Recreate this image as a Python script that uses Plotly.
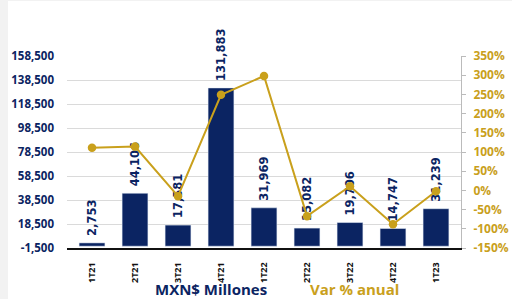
import plotly.graph_objects as go

categories = ["1T21", "2T21", "3T21", "4T21", "1T22", "2T22", "3T22", "4T22", "1T23"]
mxn_millones = [2753, 44106, 17581, 131883, 31969, 15082, 19706, 14747, 31239]
var_pct = [111, 114, -15, 249, 298, -67, 11, -88, -2]
bar_labels = ["\u00a0" + f"{v:,}" for v in mxn_millones]

left_ticks = list(range(-1500, 158501, 20000))
right_ticks = list(range(-150, 351, 50))

NAVY = "#0B2462"
GOLD = "#C9A01C"

# figure is placed at (8, 1) in the 512x299 window (page background light gray)
OX, OY = 8, 1
W, H = 512 - OX, 299 - OY
L, R, T, B = 67 - OX, 51, 56 - OY, 51

fig = go.Figure()
fig.add_trace(go.Bar(
    x=categories, y=mxn_millones, name="MXN$ Millones",
    marker=dict(color=NAVY), width=0.6,
    text=bar_labels, textposition="outside", textangle=-90,
    constraintext="none",
    textfont=dict(color=NAVY, size=11.5, family="DejaVu Sans", weight="bold"),
    cliponaxis=False, yaxis="y",
))
fig.add_trace(go.Scatter(
    x=categories, y=var_pct, name="Var % anual", mode="lines+markers",
    line=dict(color=GOLD, width=2), marker=dict(color=GOLD, size=8.5),
    yaxis="y2", cliponaxis=False,
))

fig.update_layout(
    width=W, height=H,
    margin=dict(l=L, r=R, t=T, b=B, autoexpand=False),
    paper_bgcolor="white", plot_bgcolor="white",
    showlegend=False, bargap=0.4,
    font=dict(family="Open Sans"),
    xaxis=dict(
        tickangle=-90, tickfont=dict(size=9, color="#111111", family="Open Sans", weight="bold"),
        showline=True, linecolor="#111111", linewidth=1.5, showgrid=False,
        ticks="", ticklabelstandoff=9, automargin=False,
    ),
    yaxis=dict(
        range=[-1500, 158500], tickvals=left_ticks,
        ticktext=[f"{v:,}" for v in left_ticks],
        tickfont=dict(size=11.5, color=NAVY, family="Open Sans", weight="bold"),
        showgrid=True, gridcolor="#DADADA", gridwidth=1.2, zeroline=False,
        ticks="", ticklabelstandoff=12, automargin=False,
    ),
    yaxis2=dict(
        range=[-150, 350], tickvals=right_ticks,
        ticktext=[f"{v}%" for v in right_ticks],
        overlaying="y", side="right",
        tickfont=dict(size=12, color=GOLD, family="Open Sans", weight="bold"),
        showgrid=False, zeroline=False,
        showline=True, linecolor="#BBBBBB", linewidth=1,
        ticks="outside", ticklen=4, tickcolor="#BBBBBB", automargin=False,
        ticklabelstandoff=5,
    ),
)
pw, ph = W - L - R, H - T - B
for txt, px, col in [("MXN$ Millones", 211, NAVY), ("Var % anual", 354, GOLD)]:
    fig.add_annotation(
        text=txt, x=(px - OX - L) / pw, y=((H - B) - (289 - OY)) / ph,
        xref="paper", yref="paper",
        showarrow=False, xanchor="center", yanchor="middle",
        font=dict(size=15, color=col, family="Open Sans", weight="bold"),
    )

page_js = (
    "document.body.style.margin='1px 0 0 8px';"
    "document.body.style.background='#F2F2F2';"
    "document.documentElement.style.background='#F2F2F2';"
)
fig.write_html("out.html", post_script=page_js)
